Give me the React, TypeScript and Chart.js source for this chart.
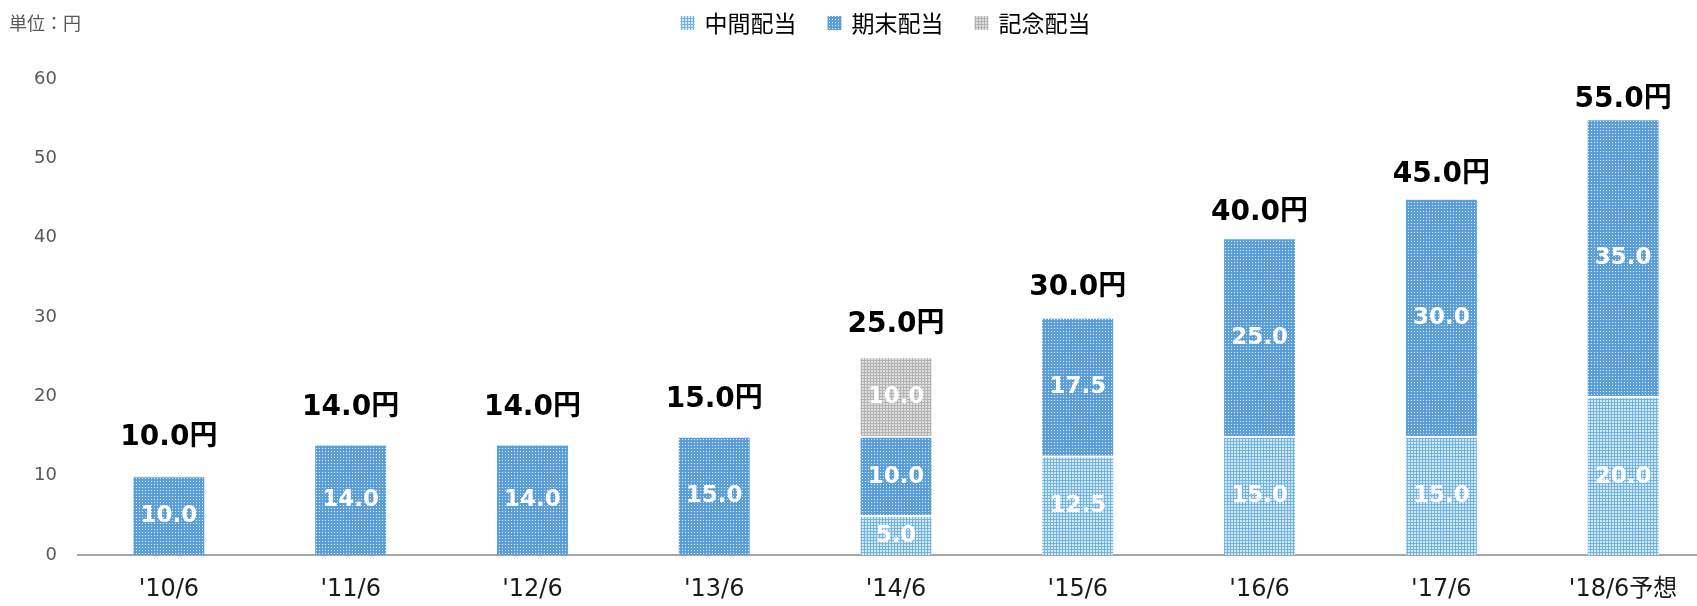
import React, { useEffect, useRef } from "react";
import { Chart, registerables } from "chart.js";

Chart.register(...registerables);

const categories = ["'10/6", "'11/6", "'12/6", "'13/6", "'14/6", "'15/6", "'16/6", "'17/6", "'18/6予想"];
const interimDividend = [null, null, null, null, 5, 12.5, 15, 15, 20];
const yearEndDividend = [10, 14, 14, 15, 10, 17.5, 25, 30, 35];
const commemorativeDividend = [null, null, null, null, 10, null, null, null, null];
const seriesNames = ["中間配当", "期末配当", "記念配当"];
const yTicks = [0, 10, 20, 30, 40, 50, 60];
const unitLabel = "単位：円";

const FONT = '"DejaVu Sans", "Noto Sans CJK JP", sans-serif';
const CJK = '"Noto Sans CJK JP", "DejaVu Sans", sans-serif';

function makePattern(base: string, light: string, lightCells: number[][]): CanvasPattern | string {
  const c = document.createElement("canvas");
  c.width = 3;
  c.height = 3;
  const ctx = c.getContext("2d");
  if (!ctx) return base;
  ctx.fillStyle = base;
  ctx.fillRect(0, 0, 3, 3);
  ctx.fillStyle = light;
  for (const [x, y] of lightCells) ctx.fillRect(x, y, 1, 1);
  const p = ctx.createPattern(c, "repeat");
  return p || base;
}

export default function App() {
  const ref = useRef<HTMLCanvasElement | null>(null);

  useEffect(() => {
    const canvas = ref.current;
    if (!canvas) return;

    const interimFill = makePattern("#72b3e5", "#d4eaf9", [[1, 1], [2, 1], [1, 2], [2, 2]]);
    const yearEndFill = makePattern("#5a9fdc", "#e9f4fd", [[1, 1]]);
    const commFill = makePattern("#b3b3b3", "#dedede", [[1, 1], [2, 1], [1, 2], [2, 2]]);
    const fills = [interimFill, yearEndFill, commFill];

    const totals = categories.map((_, i) =>
      (interimDividend[i] || 0) + (yearEndDividend[i] || 0) + (commemorativeDividend[i] || 0)
    );

    const labelPlugin = {
      id: "labels",
      afterDatasetsDraw(chart: any) {
        const ctx = chart.ctx;
        ctx.save();
        ctx.textAlign = "center";
        ctx.textBaseline = "middle";
        ctx.fillStyle = "#ffffff";
        ctx.font = `bold 23px ${FONT}`;
        chart.data.datasets.forEach((ds: any, di: number) => {
          const meta = chart.getDatasetMeta(di);
          meta.data.forEach((el: any, i: number) => {
            const v = ds.data[i];
            if (v === null || v === undefined) return;
            const props = el.getProps(["x", "y", "base"], true);
            ctx.fillText(Number(v).toFixed(1), props.x, (props.y + props.base) / 2 + 1);
          });
        });
        const ys = chart.scales.y;
        const xs = chart.scales.x;
        ctx.fillStyle = "#000000";
        ctx.font = `bold 28px ${FONT}`;
        totals.forEach((t, i) => {
          const x = xs.getPixelForValue(i);
          const y = ys.getPixelForValue(t) - (42.8 - 0.436 * t);
          ctx.fillText(t.toFixed(1) + "円", x, y);
        });
        ctx.restore();
      },
      afterDraw(chart: any) {
        const ctx = chart.ctx;
        ctx.save();
        ctx.font = `18px ${CJK}`;
        ctx.fillStyle = "#595959";
        ctx.textAlign = "left";
        ctx.textBaseline = "middle";
        ctx.fillText(unitLabel, 9, 23);
        ctx.font = `23px ${CJK}`;
        const box = 14;
        const gapBoxText = 10;
        const gapItems = 31;
        const widths = seriesNames.map((n) => ctx.measureText(n).width);
        const total = widths.reduce((a, w) => a + box + gapBoxText + w, 0) + gapItems * (seriesNames.length - 1);
        let x = 885.5 - total / 2;
        const cy = 23;
        seriesNames.forEach((n, i) => {
          ctx.fillStyle = fills[i] as any;
          ctx.fillRect(x, cy - 7, box, box);
          ctx.fillStyle = "#000000";
          ctx.fillText(n, x + box + gapBoxText, cy);
          x += box + gapBoxText + widths[i] + gapItems;
        });
        ctx.restore();
      },
    };

    const mkDs = (label: string, data: (number | null)[], fill: any) => ({
      label,
      data,
      backgroundColor: fill,
      borderColor: "#ffffff",
      borderWidth: { top: 2, right: 0, bottom: 0, left: 0 },
      borderSkipped: false,
      stack: "s",
      barThickness: 71,
    });

    const chart = new Chart(canvas, {
      type: "bar",
      data: {
        labels: categories,
        datasets: [
          mkDs(seriesNames[0], interimDividend, interimFill),
          mkDs(seriesNames[1], yearEndDividend, yearEndFill),
          mkDs(seriesNames[2], commemorativeDividend, commFill),
        ] as any,
      },
      options: {
        responsive: false,
        animation: false,
        layout: { padding: { top: 79, right: 56, bottom: 0, left: 0 } },
        plugins: {
          legend: { display: false },
          tooltip: { enabled: false },
        },
        scales: {
          x: {
            stacked: true,
            grid: { display: false, drawTicks: false },
            border: { display: true, color: "#a6a6a6", width: 2 },
            ticks: {
              color: "#1a1a1a",
              font: { size: 24, family: FONT },
              padding: 20,
              maxRotation: 0,
              autoSkip: false,
            },
            afterFit: (s: any) => {
              s.height = 51;
            },
          },
          y: {
            stacked: true,
            min: 0,
            max: 60,
            afterBuildTicks: (s: any) => {
              s.ticks = yTicks.map((v) => ({ value: v }));
            },
            grid: { display: false, drawTicks: false },
            border: { display: false },
            ticks: {
              color: "#595959",
              font: { size: 18, family: FONT },
              padding: 21,
            },
            afterFit: (s: any) => {
              s.width = 78;
            },
          },
        },
      },
      plugins: [labelPlugin],
    } as any);

    return () => chart.destroy();
  }, []);

  return (
    <div
      style={{
        position: "fixed",
        left: 0,
        top: 0,
        width: 1697,
        height: 606,
        overflow: "hidden",
        background: "#ffffff",
      }}
    >
      <canvas ref={ref} width={1770} height={606} style={{ display: "block", width: 1770, height: 606 }} />
    </div>
  );
}
